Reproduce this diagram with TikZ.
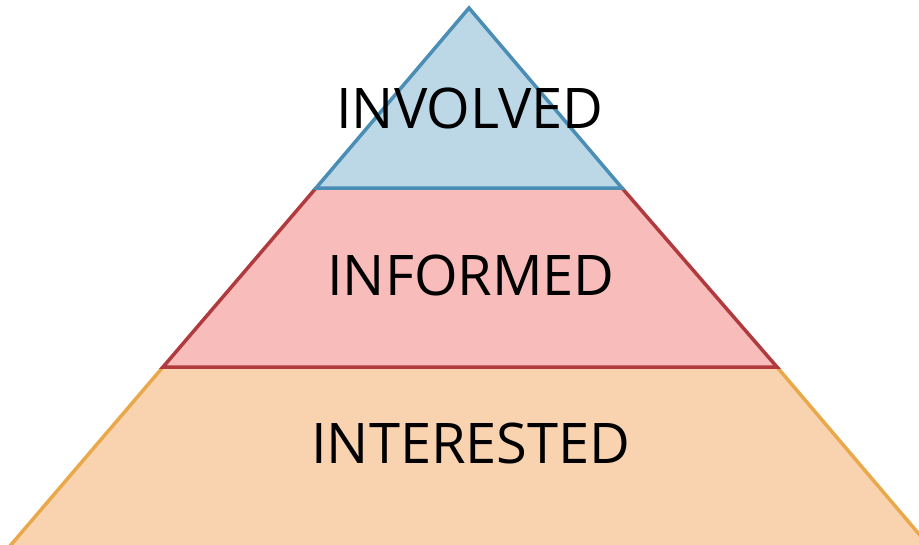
\documentclass[tikz,border=0pt]{standalone}
\usepackage{fontspec}
\setmainfont{Open Sans}
\definecolor{topfill}{RGB}{188,215,230}
\definecolor{topline}{RGB}{74,141,181}
\definecolor{midfill}{RGB}{248,188,186}
\definecolor{midline}{RGB}{176,58,62}
\definecolor{botfill}{RGB}{249,211,176}
\definecolor{botline}{RGB}{233,168,74}
\tikzset{
  band/.style={line width=3.5pt, line join=miter},
  label/.style={anchor=base, inner sep=0pt, font=\fontsize{56}{56}\selectfont, text=black}
}
\begin{document}
\begin{tikzpicture}[x=1pt,y=-1pt]
\useasboundingbox (0,0) rectangle (919,544);
\clip (0,0) rectangle (919,544);
\fill[white] (0,0) rectangle (919,544);
\coordinate (apex) at (469,8);
\coordinate (tl) at (316,188);
\coordinate (tr) at (622,188);
\coordinate (ml) at (163,367);
\coordinate (mr) at (777,367);
\coordinate (bl) at (-2,560);
\coordinate (br) at (941,560);
\draw[band, fill=botfill, draw=botline] (ml) -- (mr) -- (br) -- (bl) -- cycle;
\draw[band, fill=midfill, draw=midline] (tl) -- (tr) -- (mr) -- (ml) -- cycle;
\draw[band, fill=topfill, draw=topline] (apex) -- (tr) -- (tl) -- cycle;
\node[label] (involved) at (470,128) {INVOLVED};
\node[label] (informed) at (471,295) {INFORMED};
\node[label] (interested) at (471,463) {INTERESTED};
\end{tikzpicture}
\end{document}
